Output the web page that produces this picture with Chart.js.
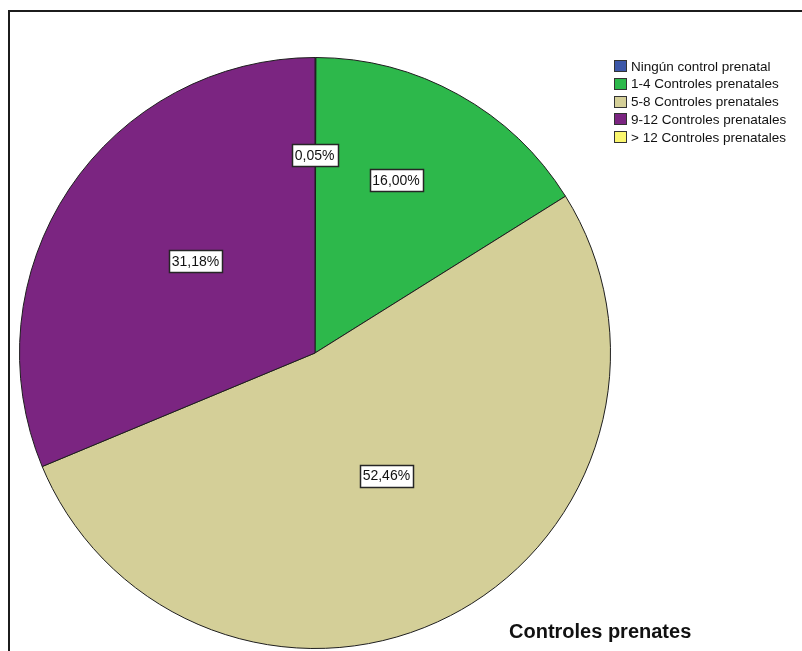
<!DOCTYPE html>
<html>
<head>
<meta charset="utf-8">
<script src="https://cdn.jsdelivr.net/npm/chart.js@4.4.1/dist/chart.umd.min.js"></script>
<style>
  html, body { margin: 0; padding: 0; background: #fff; overflow: hidden; }
  #frame {
    position: absolute; left: 8px; top: 10px; width: 900px; height: 700px;
    border-top: 2px solid #1c1c1c; border-left: 2px solid #1c1c1c;
  }
  #pie { position: absolute; left: 0; top: 0; }
</style>
</head>
<body>
<div id="frame"></div>
<canvas id="pie" width="802" height="651"></canvas>
<script>
const categories = [
  "Ningún control prenatal",
  "1-4 Controles prenatales",
  "5-8 Controles prenatales",
  "9-12 Controles prenatales",
  "> 12 Controles prenatales",
];
const percentages = [0.05, 16.0, 52.46, 31.18, 0];
const sliceColors = ["#3c57a8", "#2db84b", "#d4cf98", "#7b2581", "#faf66e"];
const chartTitle = "Controles prenates";

// where each value box sits: fraction of the radius, and a small turn in degrees
const labelRadius = [0.67, 0.645, 0.48, 0.51, 0.6];
const labelTurn = [-0.2, -3.9, -2.9, 3.8, 0];

const FONT = "'Liberation Sans', Arial, sans-serif";

const valueBoxes = {
  id: "valueBoxes",
  afterDatasetsDraw(chart) {
    const ctx = chart.ctx;
    const arcs = chart.getDatasetMeta(0).data;
    ctx.save();
    ctx.font = "14px " + FONT;
    ctx.textAlign = "center";
    ctx.textBaseline = "middle";
    arcs.forEach((arc, i) => {
      const v = percentages[i];
      if (!v) return;
      const p = arc.getProps(["x", "y", "startAngle", "endAngle", "outerRadius"], true);
      const a = (p.startAngle + p.endAngle) / 2 + labelTurn[i] * Math.PI / 180;
      const r = p.outerRadius * labelRadius[i];
      const x = p.x + r * Math.cos(a);
      const y = p.y + r * Math.sin(a);
      const text = v.toFixed(2).replace(".", ",") + "%";
      const w = Math.round(ctx.measureText(text).width) + 6;
      const h = 22;
      const bx = Math.round(x - w / 2) + 0.5;
      const by = Math.round(y - h / 2) + 0.5;
      ctx.fillStyle = "#fff";
      ctx.fillRect(bx, by, w, h);
      ctx.strokeStyle = "#262626";
      ctx.lineWidth = 1.5;
      ctx.strokeRect(bx, by, w, h);
      ctx.fillStyle = "#111";
      ctx.fillText(text, x, y + 1);
    });
    ctx.restore();
  },
};

const sideLegend = {
  id: "sideLegend",
  afterDraw(chart) {
    const ctx = chart.ctx;
    ctx.save();
    ctx.font = "13.5px " + FONT;
    ctx.textBaseline = "middle";
    ctx.textAlign = "left";
    categories.forEach((name, i) => {
      const y = 66 + i * 17.75;
      ctx.fillStyle = sliceColors[i];
      ctx.fillRect(614, Math.round(y - 6), 13, 12);
      ctx.strokeStyle = "#333";
      ctx.lineWidth = 1;
      ctx.strokeRect(614.5, Math.round(y - 6) + 0.5, 12, 11);
      ctx.fillStyle = "#111";
      ctx.fillText(name, 631, y + 1);
    });
    ctx.font = "bold 20px " + FONT;
    ctx.textBaseline = "alphabetic";
    ctx.fillStyle = "#111";
    ctx.fillText(chartTitle, 509, 638);
    ctx.restore();
  },
};

const ctx = document.getElementById("pie").getContext("2d");
new Chart(ctx, {
  type: "pie",
  data: {
    labels: categories,
    datasets: [
      {
        data: percentages,
        backgroundColor: sliceColors,
        borderColor: "#1e1e1e",
        borderWidth: 1,
      },
    ],
  },
  options: {
    responsive: false,
    devicePixelRatio: 1,
    animation: false,
    layout: { padding: { left: 19, right: 191, top: 57, bottom: 2 } },
    plugins: {
      legend: { display: false },
      title: { display: false },
      tooltip: { enabled: false },
    },
  },
  plugins: [valueBoxes, sideLegend],
});
</script>
</body>
</html>
